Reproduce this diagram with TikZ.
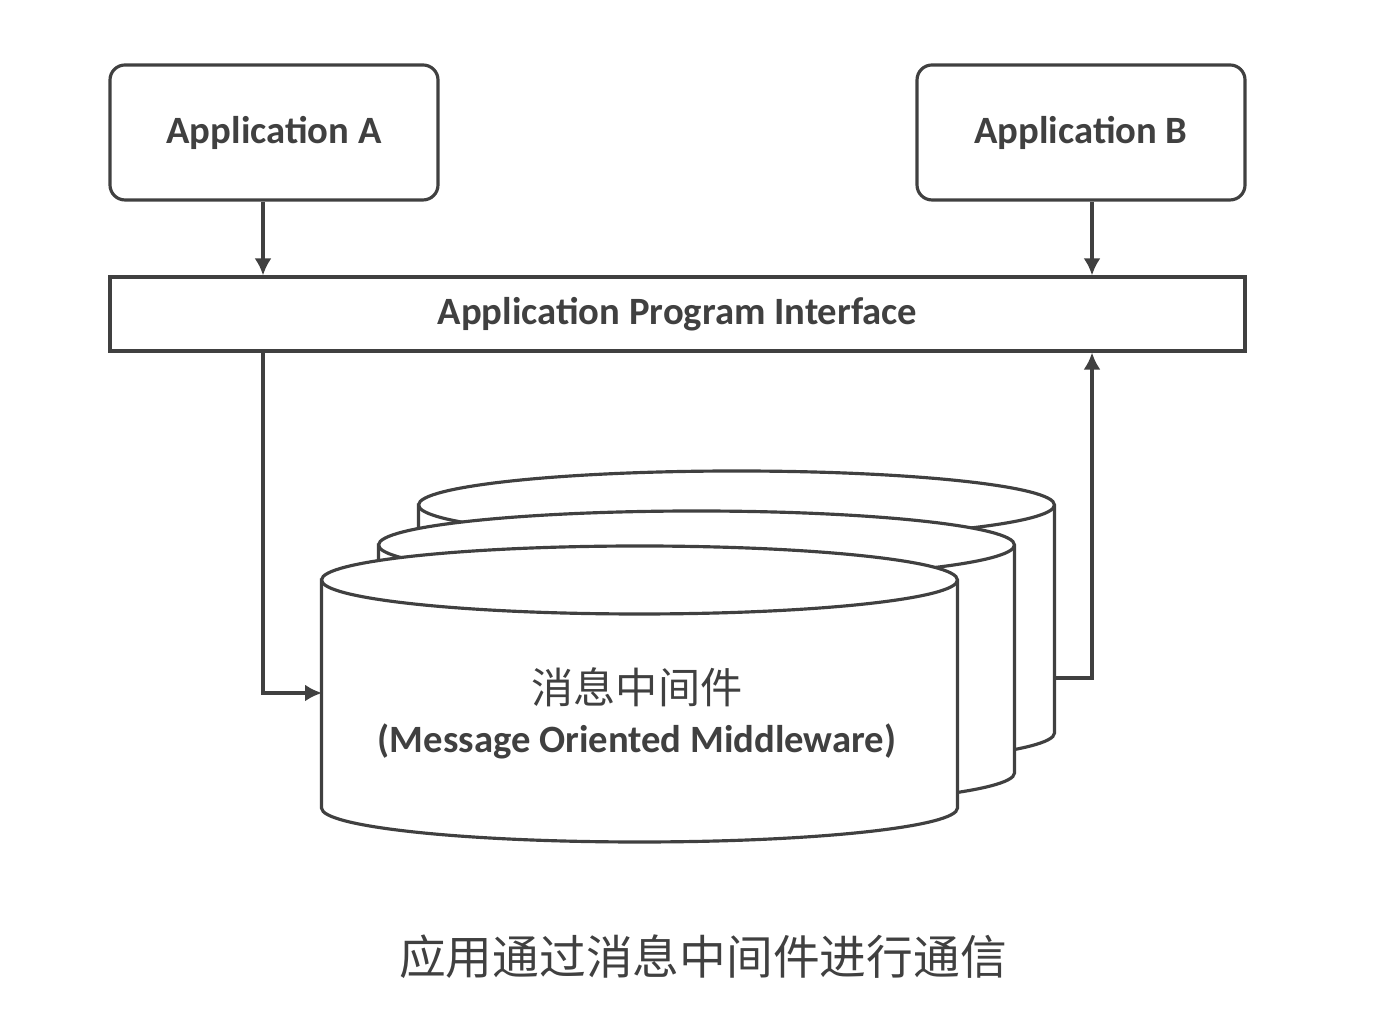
\documentclass[tikz,border=0pt]{standalone}
\usepackage{fontspec}
\setmainfont{Carlito}
\newfontfamily\cjk{Noto Sans CJK SC}
\usetikzlibrary{arrows.meta,positioning,calc}
% one drum of the middleware stack: centre x, top y, bottom y
\newcommand\drum[3]{%
\filldraw[fill=white] ({#1-3.18},#2) -- ({#1-3.18},#3) arc[start angle=180,end angle=360,x radius=3.18,y radius=.34]
  -- ({#1+3.18},#2) arc[start angle=0,end angle=180,x radius=3.18,y radius=.34] -- cycle;
\draw ({#1-3.18},#2) arc[start angle=180,end angle=360,x radius=3.18,y radius=.34];
}
\tikzset{
  app/.style={draw,rounded corners=1.5mm,minimum width=3.28cm,minimum height=1.35cm,font=\bfseries\fontsize{11}{13}\selectfont},
  bar/.style={draw,minimum width=11.35cm,minimum height=.74cm,font=\bfseries\fontsize{11}{13}\selectfont}
}
\begin{document}
\begin{tikzpicture}[>={Latex[length=1.7mm,width=1.7mm]},line width=.9pt,color=black!75]
\useasboundingbox (0,0) rectangle (13.81,10.20);
\node[app] (appa) at (2.74,8.875) {Application A};
\node[app] (appb) at (10.81,8.875) {Application B};
\node[bar] (api) at (6.775,7.06) {Application Program Interface};
% the stack, back to front
\drum{7.365}{5.15}{2.87}
\drum{6.965}{4.75}{2.47}
\drum{6.395}{4.40}{2.12}
\node[align=center,font=\bfseries\fontsize{11}{13}\selectfont] (mom) at (6.37,3.07)
  {{\cjk\mdseries\fontsize{12}{14}\selectfont 消息中间件}\\[1pt](Message Oriented Middleware)};
\coordinate (in) at (3.22,3.27);
\coordinate (out) at (10.55,3.42);
\draw[->] ([xshift=-1.1mm]appa.south) -- ([xshift=-1.1mm]appa.south |- api.north);
\draw[->] ([xshift=1.1mm]appb.south) -- ([xshift=1.1mm]appb.south |- api.north);
\draw[->] ([xshift=-1.1mm]appa.south |- api.south) |- (in);
\draw[->] (out) -| ([xshift=1.1mm]appb.south |- api.south);
\node[font=\cjk\fontsize{13.3}{16}\selectfont] (cap) at (7.03,.63) {应用通过消息中间件进行通信};
\end{tikzpicture}
\end{document}
